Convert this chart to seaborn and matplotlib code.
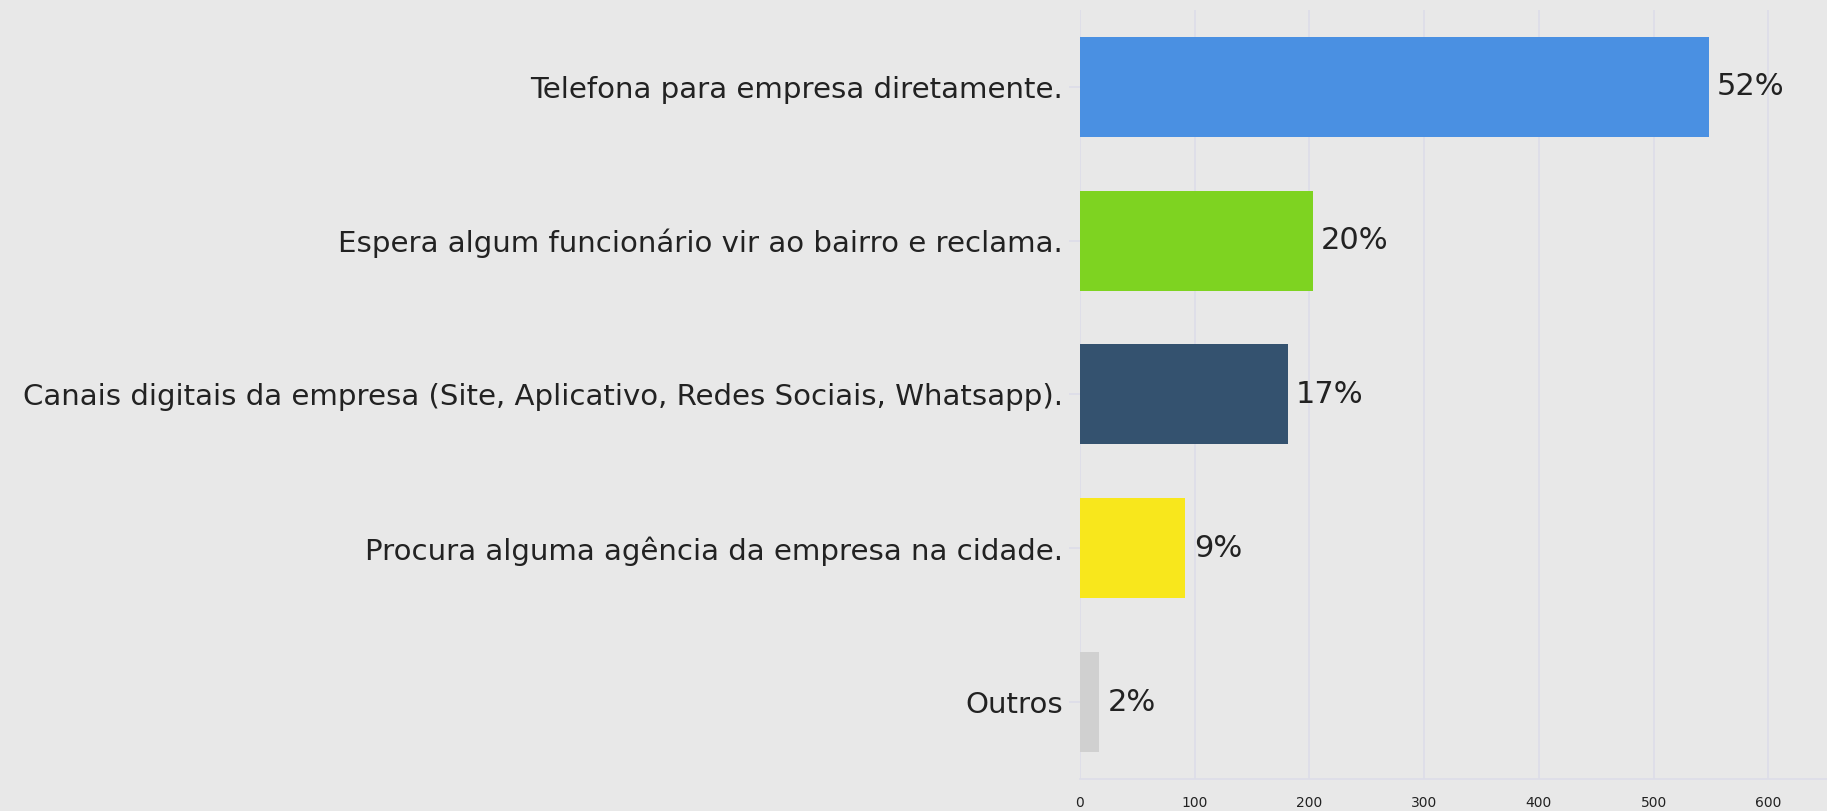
import matplotlib
matplotlib.use("Agg")
import matplotlib.pyplot as plt
import seaborn as sns
import pandas as pd

categories = [
    "Telefona para empresa diretamente.",
    "Espera algum funcionário vir ao bairro e reclama.",
    "Canais digitais da empresa (Site, Aplicativo, Redes Sociais, Whatsapp).",
    "Procura alguma agência da empresa na cidade.",
    "Outros",
]
counts = [548, 203, 181, 92, 17]
pct_labels = ["52%", "20%", "17%", "9%", "2%"]
colors = ["#4a90e2", "#7ed321", "#34526f", "#f8e71c", "#d0d0d0"]
xticks = [0, 100, 200, 300, 400, 500, 600]

bg = "#e8e8e8"
sns.set_theme(style="whitegrid", rc={
    "axes.facecolor": bg,
    "figure.facecolor": bg,
    "grid.color": "#dcdde9",
    "grid.linewidth": 1.2,
})
plt.rcParams["font.family"] = ["DejaVu Sans"]

df = pd.DataFrame({"categoria": categories, "n": counts})

fig = plt.figure(figsize=(18.27, 8.11), dpi=100)
ax = fig.add_axes([0.591, 0.0395, 0.409, 0.9485])

sns.barplot(data=df, y="categoria", x="n", hue="categoria", palette=colors,
            order=categories, hue_order=categories, width=0.65,
            legend=False, ax=ax, saturation=1, linewidth=0)

for cont, lab in zip(ax.containers, pct_labels):
    ax.bar_label(cont, labels=[lab], padding=6, fontsize=22, color="#222222")

ax.set_xlim(0, 651)
ax.set_ylim(4.5, -0.5)
ax.set_xticks(xticks)
ax.set_xticklabels([str(t) for t in xticks], fontsize=10, color="#222222")
ax.set_xlabel("")
ax.set_ylabel("")
ax.tick_params(axis="y", labelsize=21.1, labelcolor="#222222", length=8,
               color="#dcdde9", width=1.2, left=True, pad=4)
ax.tick_params(axis="x", length=0, pad=12)
ax.grid(axis="y", visible=False)
ax.grid(axis="x", visible=True)
for s in ["top", "right", "left"]:
    ax.spines[s].set_visible(False)
ax.spines["bottom"].set_visible(True)
ax.spines["bottom"].set_color("#dcdde9")
ax.spines["bottom"].set_linewidth(1.2)

fig.savefig("out.png", dpi=100, facecolor=bg)
